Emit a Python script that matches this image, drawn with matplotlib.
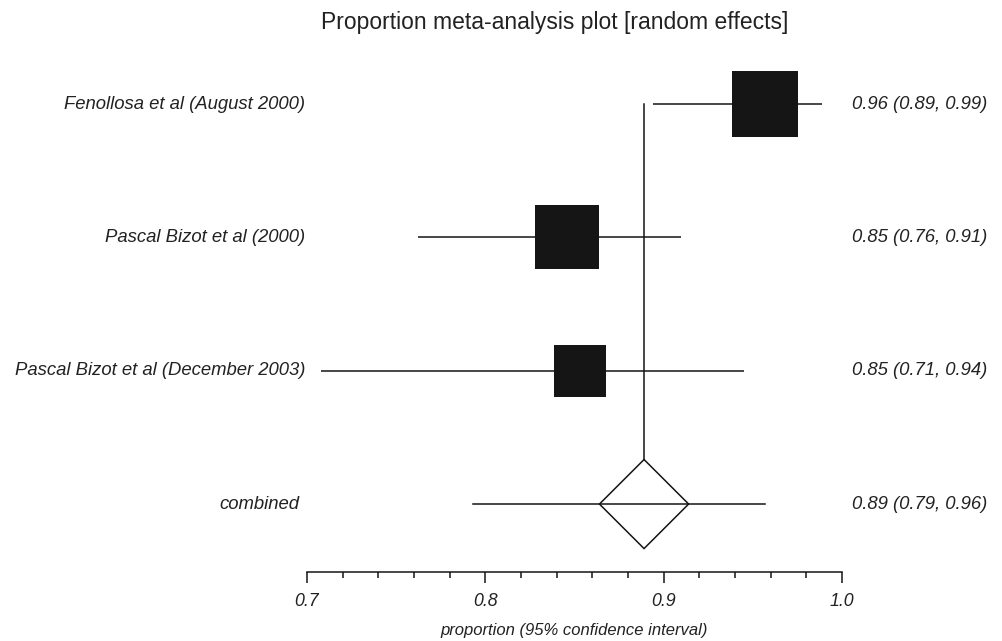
import matplotlib.pyplot as plt
from matplotlib.patches import Polygon
import numpy as np

plt.rcParams['font.family'] = ['Liberation Sans', 'DejaVu Sans']

# studies (top to bottom)
studies = ['Fenollosa et al (August 2000)', 'Pascal Bizot et al (2000)',
           'Pascal Bizot et al (December 2003)']
est = [0.957, 0.846, 0.853]
lower = [0.894, 0.762, 0.708]
upper = [0.989, 0.910, 0.945]
weights = [1.0, 0.98, 0.80]   # relative box size
labels_right = ['0.96 (0.89, 0.99)', '0.85 (0.76, 0.91)', '0.85 (0.71, 0.94)']

# combined (random effects)
comb_est = 0.889
comb_lo, comb_hi = 0.793, 0.957
comb_box_lo, comb_box_hi = 0.864, 0.914
comb_label = '0.89 (0.79, 0.96)'

xticks = [0.7, 0.8, 0.9, 1.0]
xminor = np.arange(0.7, 1.001, 0.02)

fig = plt.figure(figsize=(10.02, 6.41), dpi=100)
ax = fig.add_axes([307 / 1002, (641 - 572.3) / 641, 535 / 1002, (572.3 - 50) / 641])
ax.set_xlim(0.7, 1.0)
ax.set_ylim(0.488, 4.406)

rows = [4, 3, 2]
lw = 1.1
fs = 13.3
tcol = '#222222'
for i, y in enumerate(rows):
    ax.plot([lower[i], upper[i]], [y, y], color='#151515', lw=lw, solid_capstyle='butt')
    ax.plot(est[i], y, marker='s', markersize=47.5 * weights[i], color='#151515',
            markeredgewidth=0)
    ax.text(0.6989, y, studies[i], ha='right', va='center', style='italic',
            fontsize=fs, color=tcol, clip_on=False)
    ax.text(1.0813, y, labels_right[i], ha='right', va='center', style='italic',
            fontsize=fs, color=tcol, clip_on=False)

# combined row
yc = 1
half_h = 0.334
ax.plot([comb_lo, comb_hi], [yc, yc], color='#151515', lw=lw)
diamond = Polygon([[comb_box_lo, yc], [comb_est, yc + half_h], [comb_box_hi, yc],
                   [comb_est, yc - half_h]], closed=True, fill=False,
                  edgecolor='#151515', lw=lw)
ax.add_patch(diamond)
ax.plot([comb_est, comb_est], [yc + half_h, 4.0], color='#151515', lw=lw)
ax.text(0.6955, yc, 'combined', ha='right', va='center', style='italic',
        fontsize=fs, color=tcol, clip_on=False)
ax.text(1.0813, yc, comb_label, ha='right', va='center', style='italic',
        fontsize=fs, color=tcol, clip_on=False)

# axes styling
for s in ['top', 'right', 'left']:
    ax.spines[s].set_visible(False)
ax.spines['bottom'].set_linewidth(lw)
ax.spines['bottom'].set_color('#151515')
ax.set_yticks([])
ax.set_xticks(xticks)
ax.set_xticklabels(['0.7', '0.8', '0.9', '1.0'], style='italic', fontsize=12.8,
                   color=tcol)
ax.set_xticks(xminor, minor=True)
ax.tick_params(axis='x', which='major', length=8, width=lw, direction='out',
               pad=7, color='#151515')
ax.tick_params(axis='x', which='minor', length=4.3, width=lw, direction='out',
               color='#151515')
ax.set_xlabel('proportion (95% confidence interval)', style='italic', fontsize=12,
              color=tcol, labelpad=9)

fig.text(554.5 / 1002, 1 - 23 / 641, 'Proportion meta-analysis plot [random effects]',
         ha='center', va='center', fontsize=16.5, color=tcol)

fig.savefig('out.png', dpi=100)
